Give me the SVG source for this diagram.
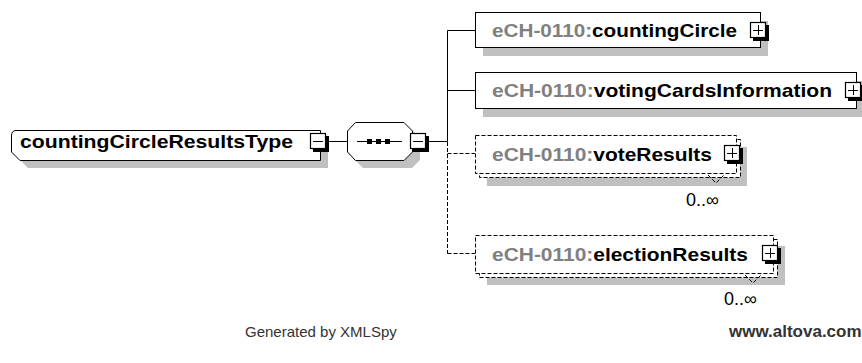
<svg xmlns="http://www.w3.org/2000/svg" width="862" height="363" viewBox="0 0 862 363">
<style>
.bg{fill:#fff}
.box{fill:#fff;stroke:#000;stroke-width:1}
.dbox{fill:#fff;stroke:#000;stroke-width:1;stroke-dasharray:4,2}
.shadow{fill:#c0c0c0;stroke:none}
.name{font-family:"Liberation Sans",Arial,sans-serif;font-weight:bold;font-size:19px;fill:#000}
.ns{fill:#808080}
.occ{font-family:"Liberation Sans",Arial,sans-serif;font-size:18px;fill:#000}
.foot{font-family:"Liberation Sans",Arial,sans-serif;font-size:15px;fill:#333}
.footb{font-family:"Liberation Sans",Arial,sans-serif;font-size:17px;font-weight:bold;fill:#333}
.line{fill:none;stroke:#000;stroke-width:1}
.dline{fill:none;stroke:#000;stroke-width:1;stroke-dasharray:4,2}
.icon{fill:#fff;stroke:#000;stroke-width:1.2}
.ish{fill:#000}
</style>
<rect class="bg" x="0" y="0" width="862" height="363"/>

<g id="connectors">
  <line class="line" x1="326" y1="141.5" x2="347" y2="141.5"/>
  <line class="line" x1="426" y1="141.5" x2="447.5" y2="141.5"/>
  <line class="line" x1="447.5" y1="30.5" x2="447.5" y2="141.5"/>
  <line class="line" x1="447.5" y1="30.5" x2="475" y2="30.5"/>
  <line class="line" x1="447.5" y1="90.5" x2="475" y2="90.5"/>
  <line class="dline" x1="447.5" y1="142" x2="447.5" y2="253.5"/>
  <line class="dline" x1="447.5" y1="153.5" x2="475" y2="153.5"/>
  <line class="dline" x1="447.5" y1="253.5" x2="475" y2="253.5"/>
</g>

<g id="root">
  <path class="shadow" d="M20,138 H328 V168 H28 L20,160 Z"/>
  <path class="box" d="M16,130.5 H320.5 V160.5 H20 L11.5,152 V136 Q11.5,130.5 16,130.5 Z"/>
  <text class="name" x="20" y="148" textLength="273" lengthAdjust="spacingAndGlyphs">countingCircleResultsType</text>
  <rect class="ish" x="313" y="136" width="16" height="16"/>
  <rect class="icon" x="310.5" y="133.5" width="15" height="15"/>
  <line class="line" x1="313" y1="141.5" x2="323" y2="141.5"/>
</g>

<g id="sequence">
  <path class="shadow" d="M363,130 H412 L420,138 V160 L412,168 H363 L355,160 Z"/>
  <path class="box" d="M355.5,122.5 H404 L412.5,131 V152 L404,160.5 H355.5 L347.5,152 V131 Z"/>
  <line class="line" x1="357" y1="141.5" x2="402" y2="141.5"/>
  <rect class="ish" x="367" y="139" width="5" height="5"/>
  <rect class="ish" x="376" y="139" width="5" height="5"/>
  <rect class="ish" x="385" y="139" width="5" height="5"/>
  <rect class="ish" x="413" y="136" width="16" height="16"/>
  <rect class="icon" x="410.5" y="133.5" width="15" height="15"/>
  <line class="line" x1="413" y1="141.5" x2="423" y2="141.5"/>
</g>

<g id="countingCircle">
  <rect class="shadow" x="483" y="21" width="285" height="35"/>
  <rect class="box" x="475.5" y="12.5" width="285" height="35"/>
  <text class="name" x="492" y="37" textLength="245" lengthAdjust="spacingAndGlyphs"><tspan class="ns">eCH-0110:</tspan>countingCircle</text>
  <rect class="ish" x="753" y="25" width="16" height="16"/>
  <rect class="icon" x="750.5" y="22.5" width="15" height="15"/>
  <line class="line" x1="753" y1="30.5" x2="763" y2="30.5"/>
  <line class="line" x1="758.5" y1="25" x2="758.5" y2="35"/>
</g>

<g id="votingCardsInformation">
  <rect class="shadow" x="483" y="81" width="382" height="36"/>
  <rect class="box" x="475.5" y="72.5" width="381" height="36"/>
  <text class="name" x="492" y="97" textLength="340" lengthAdjust="spacingAndGlyphs"><tspan class="ns">eCH-0110:</tspan>votingCardsInformation</text>
  <rect class="ish" x="848" y="85" width="16" height="16"/>
  <rect class="icon" x="845.5" y="82.5" width="15" height="15"/>
  <line class="line" x1="848" y1="90.5" x2="858" y2="90.5"/>
  <line class="line" x1="853.5" y1="85" x2="853.5" y2="95"/>
</g>

<g id="voteResults">
  <rect class="shadow" x="487" y="147" width="260" height="39"/>
  <rect class="dbox" x="479.5" y="139.5" width="261" height="38"/>
  <rect class="dbox" x="475.5" y="135.5" width="261" height="38"/>
  <text class="name" x="492" y="161" textLength="220" lengthAdjust="spacingAndGlyphs"><tspan class="ns">eCH-0110:</tspan>voteResults</text>
  <rect class="ish" x="727" y="148" width="16" height="16"/>
  <rect class="icon" x="724.5" y="145.5" width="15" height="15"/>
  <line class="line" x1="727" y1="153.5" x2="737" y2="153.5"/>
  <line class="line" x1="732.5" y1="148" x2="732.5" y2="158"/>
  <polyline class="dline" points="708,175 716,183 724,175"/>
  <text class="occ" x="686" y="206">0..∞</text>
</g>

<g id="electionResults">
  <rect class="shadow" x="487" y="246" width="298" height="39"/>
  <rect class="dbox" x="479.5" y="239.5" width="298" height="38"/>
  <rect class="dbox" x="475.5" y="235.5" width="298" height="38"/>
  <text class="name" x="492" y="261" textLength="256" lengthAdjust="spacingAndGlyphs"><tspan class="ns">eCH-0110:</tspan>electionResults</text>
  <rect class="ish" x="765" y="248" width="16" height="16"/>
  <rect class="icon" x="762.5" y="245.5" width="15" height="15"/>
  <line class="line" x1="765" y1="253.5" x2="775" y2="253.5"/>
  <line class="line" x1="770.5" y1="248" x2="770.5" y2="258"/>
  <polyline class="dline" points="745,275 753,283 761,275"/>
  <text class="occ" x="724" y="305">0..∞</text>
</g>

<g id="footer">
  <text class="foot" x="245" y="337">Generated by XMLSpy</text>
  <text class="footb" x="729" y="337">www.altova.com</text>
</g>
</svg>
